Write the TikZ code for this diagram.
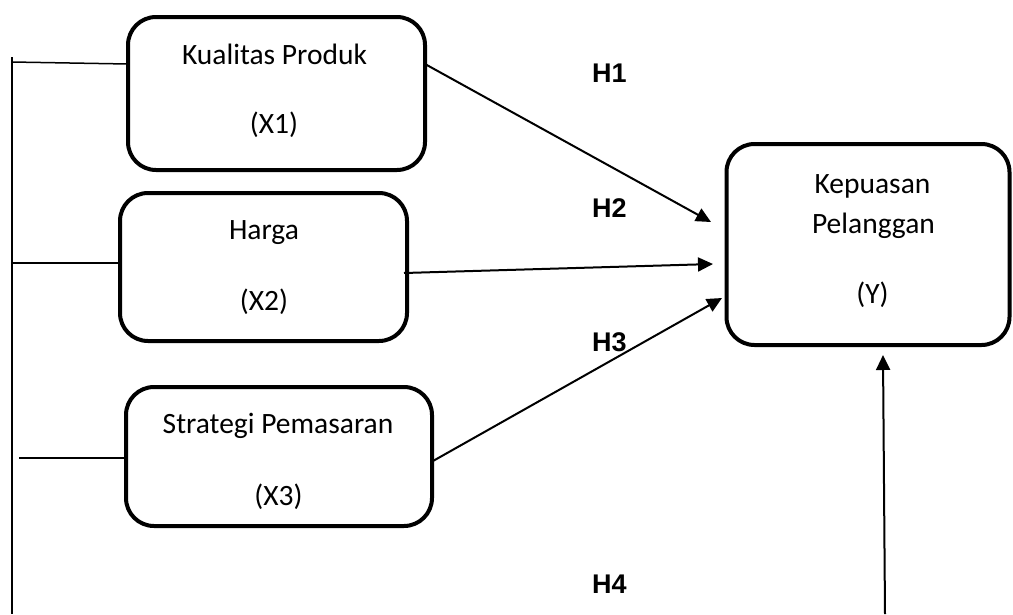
\documentclass[tikz,border=0pt]{standalone}
\usepackage{fontspec}
\setmainfont{Carlito}
\newfontfamily\hfont{Liberation Sans}
\usetikzlibrary{arrows.meta,calc}
\begin{document}
\begin{tikzpicture}[x=1pt,y=-1pt,
  box/.style={draw, line width=4pt, rounded corners=28pt, inner sep=0pt, outer sep=0pt},
  txt/.style={font=\fontsize{29.5}{35}\selectfont, anchor=base, inner sep=0pt},
  hyp/.style={font=\hfont\bfseries\fontsize{27}{31}\selectfont, anchor=base west, inner sep=0pt},
  arr/.style={line width=2pt, -{Triangle[length=15pt,width=14pt]}},
  link/.style={line width=1.5pt}]
\useasboundingbox (0,0) rectangle (1013,614);
% boxes
\node[box, minimum width=297pt, minimum height=153pt] (k1) at (276.5,93.5) {};
\node[box, minimum width=287pt, minimum height=148pt] (k2) at (263.5,267) {};
\node[box, minimum width=306pt, minimum height=139pt] (k3) at (279,456.5) {};
\node[box, minimum width=283pt, minimum height=201pt] (ky) at (868,244.5) {};
% texts
\node[txt] (k1a) at (274.5,64) {Kualitas Produk};
\node[txt] (k1b) at (274,133) {(X1)};
\node[txt] (k2a) at (264,239) {Harga};
\node[txt] (k2b) at (264,310) {(X2)};
\node[txt] (k3a) at (278,433) {Strategi Pemasaran};
\node[txt] (k3b) at (278.5,505) {(X3)};
\node[txt] (kya) at (872.5,193) {Kepuasan};
\node[txt] (kyb) at (873.5,233) {Pelanggan};
\node[txt] (kyc) at (872.5,303) {(Y)};
% hypothesis labels
\node[hyp] (h1) at (592,82) {H1};
\node[hyp] (h2) at (592,217) {H2};
\node[hyp] (h3) at (592,351) {H3};
\node[hyp] (h4) at (592,593) {H4};
% left connector lines
\coordinate (vt) at (12,57);
\coordinate (vb) at (12,614);
\coordinate (l1) at (12,62);
\coordinate (l2) at (12,263);
\coordinate (l3) at (19,458);
\draw[link] (vt) -- (vb);
\draw[link] (l1) -- ([shift={(0,-29.5)}]k1.west);
\draw[link] (l2) -- ([shift={(0,-4)}]k2.west);
\draw[link] (l3) -- ([shift={(0,1.5)}]k3.west);
% arrows
\draw[arr] ([shift={(0,-29.5)}]k1.east) -- ([shift={(-15.5,-22.5)}]ky.west);
\draw[arr] ([shift={(-3,6)}]k2.east) -- ([shift={(-13.5,19.5)}]ky.west);
\draw[arr] ([shift={(1,4.5)}]k3.east) -- ([shift={(-4.5,53.5)}]ky.west);
\coordinate (h4s) at (885,614);
\draw[arr] (h4s) -- ([shift={(15,10)}]ky.south);
\end{tikzpicture}
\end{document}
